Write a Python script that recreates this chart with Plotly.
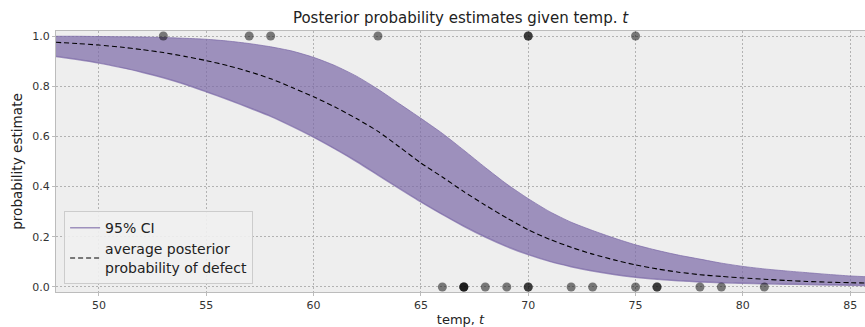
import plotly.graph_objects as go

# temperature grid and posterior curves
temps = list(range(48, 87))
mean_prob = [0.975, 0.970, 0.964, 0.956, 0.946, 0.934, 0.919, 0.902, 0.882, 0.858,
             0.830, 0.795, 0.758, 0.717, 0.671, 0.620, 0.558, 0.494, 0.438, 0.380,
             0.326, 0.275, 0.228, 0.190, 0.158, 0.131, 0.108, 0.088, 0.072, 0.059,
             0.049, 0.042, 0.036, 0.031, 0.026, 0.022, 0.019, 0.017, 0.015]
lower_q = [0.918, 0.906, 0.892, 0.875, 0.856, 0.834, 0.808, 0.778, 0.747, 0.714,
           0.680, 0.640, 0.597, 0.550, 0.500, 0.446, 0.392, 0.339, 0.289, 0.242,
           0.199, 0.161, 0.129, 0.102, 0.081, 0.064, 0.050, 0.039, 0.031, 0.025,
           0.020, 0.017, 0.015, 0.013, 0.011, 0.010, 0.008, 0.007, 0.006]
upper_q = [0.999, 0.999, 0.998, 0.997, 0.996, 0.994, 0.991, 0.987, 0.980, 0.970,
           0.957, 0.940, 0.915, 0.882, 0.840, 0.788, 0.730, 0.672, 0.612, 0.545,
           0.476, 0.410, 0.352, 0.300, 0.258, 0.225, 0.195, 0.168, 0.146, 0.127,
           0.111, 0.095, 0.082, 0.072, 0.064, 0.057, 0.050, 0.044, 0.040]

# observed launches
obs_temp = [66, 70, 69, 68, 67, 72, 73, 70, 57, 63, 70, 78, 67, 53, 67, 75, 70, 81, 76, 79, 75, 76, 58]
obs_damage = [0, 1, 0, 0, 0, 0, 0, 0, 1, 1, 1, 0, 0, 1, 0, 0, 0, 0, 0, 0, 1, 0, 1]

purple = "rgba(122,104,166,0.7)"
font = "DejaVu Sans"

fig = go.Figure()
fig.add_trace(go.Scatter(x=temps, y=lower_q, mode="lines", name="95% CI",
                         line=dict(color=purple, width=1.5, shape="spline", smoothing=0.6)))
fig.add_trace(go.Scatter(x=temps, y=upper_q, mode="lines", showlegend=False,
                         fill="tonexty", fillcolor=purple,
                         line=dict(color=purple, width=1, shape="spline", smoothing=0.6)))
fig.add_trace(go.Scatter(x=temps, y=mean_prob, mode="lines",
                         name="average posterior<br>probability of defect",
                         line=dict(color="black", width=1.1, dash="5px,3px",
                                   shape="spline", smoothing=0.6)))
fig.add_trace(go.Scatter(x=obs_temp, y=obs_damage, mode="markers", showlegend=False,
                         marker=dict(color="black", size=9, opacity=0.5, line=dict(width=0))))

axis_common = dict(showgrid=True, gridcolor="#b2b2b2", griddash="2px,2px", gridwidth=0.8,
                   showline=True, linecolor="#bcbcbc", linewidth=1, mirror=True,
                   zeroline=False, ticks="outside", ticklen=3, tickcolor="#bcbcbc",
                   tickfont=dict(size=11, color="#333333", family=font))

fig.update_layout(
    width=865, height=327,
    margin=dict(l=56, r=0, t=31, b=35),
    paper_bgcolor="white", plot_bgcolor="#eeeeee",
    font=dict(family=font, color="#222222"),
    title=dict(text="Posterior probability estimates given temp. <i>t</i>",
               x=0.5, xref="paper", y=0.945, yref="container", xanchor="center",
               yanchor="middle", font=dict(size=15, family=font, color="#222222")),
    xaxis=dict(range=[48, 85.69], tickvals=[50, 55, 60, 65, 70, 75, 80, 85],
               title=dict(text="temp, <i>t</i>", font=dict(size=13, family=font), standoff=4),
               **axis_common),
    yaxis=dict(range=[-0.02, 1.02], tickvals=[0, 0.2, 0.4, 0.6, 0.8, 1.0], tickformat=".1f",
               title=dict(text="probability estimate", font=dict(size=13.6, family=font), standoff=6),
               **axis_common),
    legend=dict(x=0.01, y=0.03, xanchor="left", yanchor="bottom", traceorder="normal",
                bgcolor="rgba(240,240,240,0.9)", bordercolor="#cccccc", borderwidth=1,
                font=dict(size=14, family=font, color="#222222"), tracegroupgap=2),
)

fig.write_html("out.html")
